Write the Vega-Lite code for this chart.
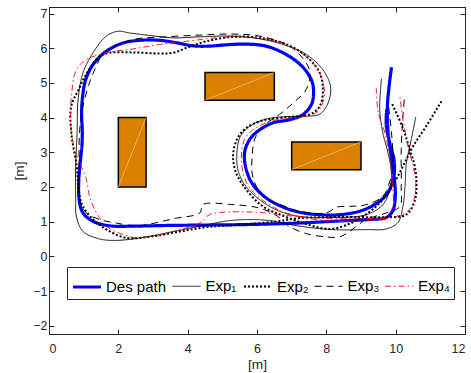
{
  "$schema": "https://vega.github.io/schema/vega-lite/v6.json",
  "width": 416,
  "height": 327,
  "autosize": "none",
  "padding": {"left": 49, "top": 7, "right": 6, "bottom": 39},
  "background": "white",
  "config": {
    "view": {"stroke": "#262626", "strokeWidth": 1},
    "axis": {
      "grid": false,
      "domainColor": "#262626",
      "tickColor": "#262626",
      "labelColor": "#262626",
      "titleColor": "#262626",
      "labelFont": "Liberation Sans",
      "titleFont": "Liberation Sans",
      "labelFontSize": 12.5,
      "titleFontSize": 13.7,
      "titleFontWeight": "normal",
      "tickSize": -5,
      "tickWidth": 1,
      "domainWidth": 1
    },
    "legend": {
      "labelFont": "Liberation Sans",
      "labelFontSize": 15,
      "labelColor": "#000000"
    }
  },
  "datasets": {
    "paths": [
      {"s":"Des path","x":9.88,"y":5.45},{"s":"Des path","x":9.81,"y":4.9},{"s":"Des path","x":9.76,"y":4.3},{"s":"Des path","x":9.78,"y":3.6},{"s":"Des path","x":9.87,"y":2.9},{"s":"Des path","x":9.96,"y":2.25},{"s":"Des path","x":9.99,"y":1.75},{"s":"Des path","x":9.92,"y":1.32},{"s":"Des path","x":9.73,"y":1.12},{"s":"Des path","x":9.15,"y":1.06},{"s":"Des path","x":8.2,"y":1.01},{"s":"Des path","x":7.2,"y":0.96},{"s":"Des path","x":6.3,"y":0.93},{"s":"Des path","x":5.3,"y":0.91},{"s":"Des path","x":4.35,"y":0.9},{"s":"Des path","x":3.4,"y":0.89},{"s":"Des path","x":2.42,"y":0.87},{"s":"Des path","x":1.75,"y":0.88},{"s":"Des path","x":1.27,"y":1.01},{"s":"Des path","x":0.98,"y":1.25},{"s":"Des path","x":0.87,"y":1.63},{"s":"Des path","x":0.86,"y":2.21},{"s":"Des path","x":0.9,"y":2.7},{"s":"Des path","x":0.95,"y":3.2},{"s":"Des path","x":0.96,"y":3.6},{"s":"Des path","x":0.94,"y":4.13},{"s":"Des path","x":0.97,"y":4.62},{"s":"Des path","x":1.06,"y":5.1},{"s":"Des path","x":1.27,"y":5.53},{"s":"Des path","x":1.65,"y":5.91},{"s":"Des path","x":2.13,"y":6.15},{"s":"Des path","x":2.62,"y":6.23},{"s":"Des path","x":3.19,"y":6.23},{"s":"Des path","x":3.67,"y":6.16},{"s":"Des path","x":4.15,"y":6.07},{"s":"Des path","x":4.6,"y":6.06},{"s":"Des path","x":5.12,"y":6.1},{"s":"Des path","x":5.69,"y":6.12},{"s":"Des path","x":6.27,"y":6.06},{"s":"Des path","x":6.75,"y":5.87},{"s":"Des path","x":7.13,"y":5.63},{"s":"Des path","x":7.42,"y":5.34},{"s":"Des path","x":7.6,"y":5.0},{"s":"Des path","x":7.63,"y":4.66},{"s":"Des path","x":7.57,"y":4.38},{"s":"Des path","x":7.33,"y":4.09},{"s":"Des path","x":6.94,"y":3.94},{"s":"Des path","x":6.46,"y":3.85},{"s":"Des path","x":6.08,"y":3.65},{"s":"Des path","x":5.79,"y":3.37},{"s":"Des path","x":5.64,"y":2.98},{"s":"Des path","x":5.69,"y":2.5},{"s":"Des path","x":5.88,"y":2.07},{"s":"Des path","x":6.27,"y":1.68},{"s":"Des path","x":6.75,"y":1.42},{"s":"Des path","x":7.23,"y":1.27},{"s":"Des path","x":7.81,"y":1.2},{"s":"Des path","x":8.38,"y":1.2},{"s":"Des path","x":8.96,"y":1.3},{"s":"Des path","x":9.44,"y":1.52},{"s":"Des path","x":9.77,"y":1.83},{"s":"Des path","x":9.95,"y":2.31},{"s":"Des path","x":9.95,"y":2.79},{"s":"Des path","x":9.83,"y":3.27},{"s":"Des path","x":9.73,"y":3.75},{"s":"Des path","x":9.74,"y":4.23},

      {"s":"Exp₁","x":9.59,"y":5.12},{"s":"Exp₁","x":9.54,"y":4.23},{"s":"Exp₁","x":9.63,"y":3.56},{"s":"Exp₁","x":9.78,"y":2.98},{"s":"Exp₁","x":9.88,"y":2.4},{"s":"Exp₁","x":9.83,"y":1.92},{"s":"Exp₁","x":9.63,"y":1.49},{"s":"Exp₁","x":9.15,"y":1.2},{"s":"Exp₁","x":8.19,"y":1.12},{"s":"Exp₁","x":7.23,"y":1.15},{"s":"Exp₁","x":6.65,"y":1.3},{"s":"Exp₁","x":6.08,"y":1.63},{"s":"Exp₁","x":5.64,"y":2.07},{"s":"Exp₁","x":5.45,"y":2.5},{"s":"Exp₁","x":5.42,"y":2.98},{"s":"Exp₁","x":5.52,"y":3.46},{"s":"Exp₁","x":5.79,"y":3.75},{"s":"Exp₁","x":6.27,"y":3.96},{"s":"Exp₁","x":6.85,"y":4.03},{"s":"Exp₁","x":7.42,"y":4.04},{"s":"Exp₁","x":7.81,"y":4.1},{"s":"Exp₁","x":8.05,"y":4.42},{"s":"Exp₁","x":8.12,"y":4.9},{"s":"Exp₁","x":7.9,"y":5.38},{"s":"Exp₁","x":7.42,"y":5.82},{"s":"Exp₁","x":6.75,"y":6.11},{"s":"Exp₁","x":6.08,"y":6.27},{"s":"Exp₁","x":5.31,"y":6.35},{"s":"Exp₁","x":4.35,"y":6.33},{"s":"Exp₁","x":3.58,"y":6.3},{"s":"Exp₁","x":2.9,"y":6.37},{"s":"Exp₁","x":2.33,"y":6.44},{"s":"Exp₁","x":1.99,"y":6.49},{"s":"Exp₁","x":1.65,"y":6.35},{"s":"Exp₁","x":1.27,"y":5.87},{"s":"Exp₁","x":0.98,"y":5.29},{"s":"Exp₁","x":0.84,"y":4.52},{"s":"Exp₁","x":0.81,"y":3.56},{"s":"Exp₁","x":0.77,"y":2.6},{"s":"Exp₁","x":0.77,"y":1.63},{"s":"Exp₁","x":0.79,"y":1.15},{"s":"Exp₁","x":0.98,"y":0.72},{"s":"Exp₁","x":1.46,"y":0.5},{"s":"Exp₁","x":1.94,"y":0.46},{"s":"Exp₁","x":2.62,"y":0.53},{"s":"Exp₁","x":3.38,"y":0.67},{"s":"Exp₁","x":4.35,"y":0.87},{"s":"Exp₁","x":5.31,"y":1.04},{"s":"Exp₁","x":6.27,"y":1.04},{"s":"Exp₁","x":7.23,"y":0.87},{"s":"Exp₁","x":8.19,"y":0.77},{"s":"Exp₁","x":9.15,"y":0.77},{"s":"Exp₁","x":9.73,"y":0.79},{"s":"Exp₁","x":10.07,"y":0.98},{"s":"Exp₁","x":10.21,"y":1.44},{"s":"Exp₁","x":10.27,"y":2.02},{"s":"Exp₁","x":10.31,"y":2.69},{"s":"Exp₁","x":10.45,"y":3.37},{"s":"Exp₁","x":10.58,"y":4.02},

      {"s":"Exp₂","x":11.32,"y":4.47},{"s":"Exp₂","x":10.88,"y":3.75},{"s":"Exp₂","x":10.5,"y":3.17},{"s":"Exp₂","x":10.21,"y":2.6},{"s":"Exp₂","x":9.95,"y":2.1},{"s":"Exp₂","x":9.6,"y":1.6},{"s":"Exp₂","x":9.2,"y":1.25},{"s":"Exp₂","x":8.7,"y":0.95},{"s":"Exp₂","x":8.1,"y":0.79},{"s":"Exp₂","x":7.42,"y":0.93},{"s":"Exp₂","x":6.75,"y":1.17},{"s":"Exp₂","x":6.17,"y":1.44},{"s":"Exp₂","x":5.69,"y":1.92},{"s":"Exp₂","x":5.4,"y":2.4},{"s":"Exp₂","x":5.31,"y":2.88},{"s":"Exp₂","x":5.42,"y":3.37},{"s":"Exp₂","x":5.69,"y":3.7},{"s":"Exp₂","x":6.17,"y":3.92},{"s":"Exp₂","x":6.94,"y":4.02},{"s":"Exp₂","x":7.52,"y":4.09},{"s":"Exp₂","x":7.81,"y":4.33},{"s":"Exp₂","x":7.9,"y":4.81},{"s":"Exp₂","x":7.81,"y":5.29},{"s":"Exp₂","x":7.42,"y":5.77},{"s":"Exp₂","x":6.85,"y":6.11},{"s":"Exp₂","x":6.08,"y":6.3},{"s":"Exp₂","x":5.31,"y":6.33},{"s":"Exp₂","x":4.54,"y":6.2},{"s":"Exp₂","x":3.96,"y":6.01},{"s":"Exp₂","x":3.58,"y":5.87},{"s":"Exp₂","x":3.19,"y":5.85},{"s":"Exp₂","x":2.42,"y":5.88},{"s":"Exp₂","x":1.75,"y":5.87},{"s":"Exp₂","x":1.46,"y":5.77},{"s":"Exp₂","x":1.1,"y":5.3},{"s":"Exp₂","x":0.85,"y":4.8},{"s":"Exp₂","x":0.64,"y":4.33},{"s":"Exp₂","x":0.65,"y":3.5},{"s":"Exp₂","x":0.8,"y":2.6},{"s":"Exp₂","x":0.85,"y":2.0},{"s":"Exp₂","x":0.95,"y":1.5},{"s":"Exp₂","x":1.27,"y":1.06},{"s":"Exp₂","x":1.7,"y":0.75},{"s":"Exp₂","x":2.23,"y":0.53},{"s":"Exp₂","x":3.0,"y":0.58},{"s":"Exp₂","x":3.8,"y":0.72},{"s":"Exp₂","x":4.6,"y":0.85},{"s":"Exp₂","x":5.5,"y":0.91},{"s":"Exp₂","x":6.5,"y":1.0},{"s":"Exp₂","x":7.2,"y":1.1},{"s":"Exp₂","x":8.0,"y":1.13},{"s":"Exp₂","x":9.0,"y":1.13},{"s":"Exp₂","x":9.7,"y":1.13},{"s":"Exp₂","x":10.3,"y":1.2},{"s":"Exp₂","x":10.55,"y":1.6},{"s":"Exp₂","x":10.6,"y":2.1},{"s":"Exp₂","x":10.55,"y":2.6},{"s":"Exp₂","x":10.4,"y":3.1},{"s":"Exp₂","x":10.2,"y":3.72},{"s":"Exp₂","x":9.88,"y":4.43},

      {"s":"Exp₃","x":9.8,"y":4.3},{"s":"Exp₃","x":9.88,"y":3.56},{"s":"Exp₃","x":9.92,"y":2.79},{"s":"Exp₃","x":9.83,"y":2.16},{"s":"Exp₃","x":9.63,"y":1.73},{"s":"Exp₃","x":9.15,"y":1.49},{"s":"Exp₃","x":8.67,"y":1.44},{"s":"Exp₃","x":8.3,"y":1.42},{"s":"Exp₃","x":8.0,"y":1.25},{"s":"Exp₃","x":7.23,"y":1.3},{"s":"Exp₃","x":6.65,"y":1.5},{"s":"Exp₃","x":6.27,"y":1.63},{"s":"Exp₃","x":5.98,"y":2.02},{"s":"Exp₃","x":5.86,"y":2.4},{"s":"Exp₃","x":5.86,"y":2.88},{"s":"Exp₃","x":5.93,"y":3.37},{"s":"Exp₃","x":6.17,"y":3.75},{"s":"Exp₃","x":6.65,"y":4.09},{"s":"Exp₃","x":7.04,"y":4.42},{"s":"Exp₃","x":7.42,"y":4.81},{"s":"Exp₃","x":7.52,"y":5.34},{"s":"Exp₃","x":7.23,"y":5.82},{"s":"Exp₃","x":6.85,"y":6.11},{"s":"Exp₃","x":6.08,"y":6.35},{"s":"Exp₃","x":5.31,"y":6.41},{"s":"Exp₃","x":4.35,"y":6.38},{"s":"Exp₃","x":3.38,"y":6.33},{"s":"Exp₃","x":2.42,"y":6.25},{"s":"Exp₃","x":1.56,"y":5.87},{"s":"Exp₃","x":1.41,"y":5.58},{"s":"Exp₃","x":1.2,"y":5.1},{"s":"Exp₃","x":0.98,"y":4.33},{"s":"Exp₃","x":0.88,"y":3.56},{"s":"Exp₃","x":0.87,"y":2.6},{"s":"Exp₃","x":0.88,"y":1.63},{"s":"Exp₃","x":1.08,"y":1.25},{"s":"Exp₃","x":1.46,"y":1.06},{"s":"Exp₃","x":1.94,"y":0.96},{"s":"Exp₃","x":2.52,"y":0.88},{"s":"Exp₃","x":3.67,"y":1.1},{"s":"Exp₃","x":4.35,"y":1.25},{"s":"Exp₃","x":4.44,"y":1.49},{"s":"Exp₃","x":5.31,"y":1.49},{"s":"Exp₃","x":6.08,"y":1.39},{"s":"Exp₃","x":6.6,"y":1.15},{"s":"Exp₃","x":6.9,"y":0.88},{"s":"Exp₃","x":7.4,"y":0.66},{"s":"Exp₃","x":8.0,"y":0.56},{"s":"Exp₃","x":8.38,"y":0.56},{"s":"Exp₃","x":8.67,"y":0.72},{"s":"Exp₃","x":9.15,"y":1.06},{"s":"Exp₃","x":9.73,"y":1.25},{"s":"Exp₃","x":10.12,"y":1.44},{"s":"Exp₃","x":10.16,"y":2.02},{"s":"Exp₃","x":10.16,"y":3.08},{"s":"Exp₃","x":10.21,"y":4.04},{"s":"Exp₃","x":10.26,"y":4.66},

      {"s":"Exp₄","x":9.44,"y":4.86},{"s":"Exp₄","x":9.5,"y":4.13},{"s":"Exp₄","x":9.69,"y":3.56},{"s":"Exp₄","x":9.83,"y":2.79},{"s":"Exp₄","x":9.92,"y":1.92},{"s":"Exp₄","x":9.92,"y":1.44},{"s":"Exp₄","x":9.73,"y":1.15},{"s":"Exp₄","x":9.35,"y":1.04},{"s":"Exp₄","x":8.67,"y":1.01},{"s":"Exp₄","x":7.71,"y":1.06},{"s":"Exp₄","x":6.85,"y":1.25},{"s":"Exp₄","x":6.27,"y":1.54},{"s":"Exp₄","x":5.79,"y":1.97},{"s":"Exp₄","x":5.6,"y":2.4},{"s":"Exp₄","x":5.55,"y":2.88},{"s":"Exp₄","x":5.64,"y":3.37},{"s":"Exp₄","x":5.88,"y":3.65},{"s":"Exp₄","x":6.37,"y":3.89},{"s":"Exp₄","x":6.94,"y":3.99},{"s":"Exp₄","x":7.42,"y":4.04},{"s":"Exp₄","x":7.76,"y":4.18},{"s":"Exp₄","x":7.94,"y":4.62},{"s":"Exp₄","x":7.85,"y":5.19},{"s":"Exp₄","x":7.52,"y":5.67},{"s":"Exp₄","x":6.94,"y":6.06},{"s":"Exp₄","x":6.27,"y":6.27},{"s":"Exp₄","x":5.5,"y":6.33},{"s":"Exp₄","x":4.83,"y":6.3},{"s":"Exp₄","x":3.96,"y":6.2},{"s":"Exp₄","x":3.19,"y":6.11},{"s":"Exp₄","x":2.42,"y":5.98},{"s":"Exp₄","x":1.65,"y":5.87},{"s":"Exp₄","x":1.08,"y":5.67},{"s":"Exp₄","x":0.79,"y":5.38},{"s":"Exp₄","x":0.64,"y":4.52},{"s":"Exp₄","x":0.63,"y":3.75},{"s":"Exp₄","x":0.74,"y":3.08},{"s":"Exp₄","x":0.93,"y":2.6},{"s":"Exp₄","x":1.08,"y":2.21},{"s":"Exp₄","x":1.17,"y":1.73},{"s":"Exp₄","x":1.37,"y":1.25},{"s":"Exp₄","x":1.65,"y":0.87},{"s":"Exp₄","x":2.13,"y":0.63},{"s":"Exp₄","x":2.62,"y":0.53},{"s":"Exp₄","x":3.5,"y":0.7},{"s":"Exp₄","x":4.35,"y":0.96},{"s":"Exp₄","x":4.63,"y":1.2},{"s":"Exp₄","x":5.21,"y":1.28},{"s":"Exp₄","x":6.27,"y":1.25},{"s":"Exp₄","x":6.94,"y":1.17},{"s":"Exp₄","x":7.8,"y":1.1},{"s":"Exp₄","x":8.8,"y":1.1},{"s":"Exp₄","x":9.92,"y":1.12},{"s":"Exp₄","x":10.4,"y":1.35},{"s":"Exp₄","x":10.55,"y":1.73},{"s":"Exp₄","x":10.58,"y":2.21},{"s":"Exp₄","x":10.5,"y":2.6},{"s":"Exp₄","x":10.36,"y":3.17},{"s":"Exp₄","x":10.21,"y":3.94},{"s":"Exp₄","x":10.12,"y":4.62}
    ],
    "obs": [
      {"x": 2, "x2": 2.8, "y": 2, "y2": 4},
      {"x": 4.5, "x2": 6.5, "y": 4.5, "y2": 5.3},
      {"x": 7, "x2": 9, "y": 2.5, "y2": 3.3}
    ]
  },
  "resolve": {"axis": {"x": "independent", "y": "independent"}},
  "layer": [
    {
      "data": {"name": "obs"},
      "mark": {"type": "rect", "fill": "#DB8100", "stroke": "#000000", "strokeWidth": 1.5},
      "encoding": {
        "x": {"field": "x", "type": "quantitative", "scale": {"domain": [0, 12], "nice": false, "zero": false},
              "axis": {"orient": "bottom", "values": [0, 2, 4, 6, 8, 10, 12], "title": "[m]", "labelPadding": 13, "titlePadding": 3}},
        "x2": {"field": "x2"},
        "y": {"field": "y", "type": "quantitative", "scale": {"domain": [-2.24, 7.19], "nice": false, "zero": false},
              "axis": {"orient": "left", "values": [-2, -1, 0, 1, 2, 3, 4, 5, 6, 7], "title": "[m]", "labelPadding": 7, "titlePadding": 6}},
        "y2": {"field": "y2"}
      }
    },
    {
      "data": {"name": "obs"},
      "mark": {"type": "rule", "stroke": "#F3C48C", "strokeWidth": 0.7},
      "encoding": {
        "x": {"field": "x", "type": "quantitative",
              "axis": {"orient": "top", "values": [0, 2, 4, 6, 8, 10, 12], "labels": false, "title": null}},
        "x2": {"field": "x2"},
        "y": {"field": "y", "type": "quantitative",
              "axis": {"orient": "right", "values": [-2, -1, 0, 1, 2, 3, 4, 5, 6, 7], "labels": false, "title": null}},
        "y2": {"field": "y2"}
      }
    },
    {
      "data": {"name": "paths"},
      "mark": {"type": "line", "interpolate": "catmull-rom"},
      "encoding": {
        "x": {"field": "x", "type": "quantitative", "axis": null},
        "y": {"field": "y", "type": "quantitative", "axis": null},
        "order": {"value": null},
        "color": {"field": "s", "type": "nominal",
                  "scale": {"domain": ["Des path", "Exp₁", "Exp₂", "Exp₃", "Exp₄"], "range": ["#0000FF", "#000000", "#000000", "#000000", "#FF0000"]},
                  "legend": {"orient": "none", "legendX": 18, "legendY": 260, "direction": "horizontal", "columns": 5,
                             "title": null, "symbolType": "stroke", "symbolSize": 784, "labelOffset": 3, "columnPadding": 3.5,
                             "padding": 4, "strokeColor": "#262626", "fillColor": "#FFFFFF", "labelLimit": 200}},
        "strokeDash": {"field": "s", "type": "nominal",
                  "scale": {"domain": ["Des path", "Exp₁", "Exp₂", "Exp₃", "Exp₄"], "range": [[1, 0], [1, 0], [2, 2], [7, 5], [6, 3, 1.5, 3]]}},
        "strokeWidth": {"field": "s", "type": "nominal",
                  "scale": {"type": "ordinal", "domain": ["Des path", "Exp₁", "Exp₂", "Exp₃", "Exp₄"], "range": [3.2, 0.9, 2, 1, 0.9]}}
      }
    }
  ]
}
